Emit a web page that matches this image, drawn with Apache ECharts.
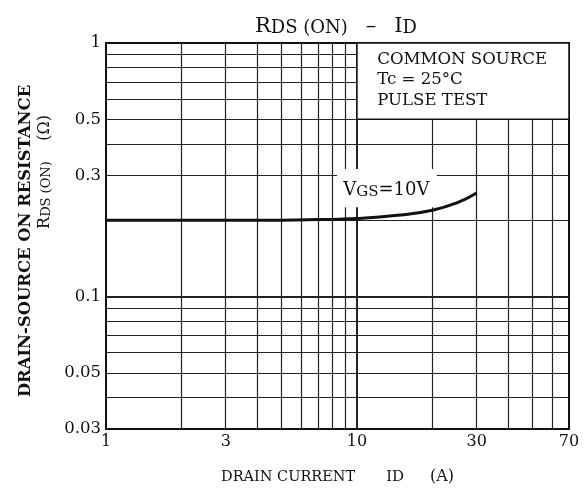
<!DOCTYPE html>
<html>
<head>
<meta charset="utf-8">
<script src="https://cdn.jsdelivr.net/npm/echarts@6/dist/echarts.min.js"></script>
<style>
  html, body { margin: 0; padding: 0; background: #fff; }
  #chart { width: 586px; height: 491px; }
</style>
</head>
<body>
<div id="chart"></div>
<script>
// drain current (A) vs on resistance (ohm)
var current = [1, 3, 5, 7, 10, 14.5, 20, 25, 30]
var resistance = [0.2, 0.2, 0.2, 0.201, 0.203, 0.209, 0.219, 0.234, 0.256]

// log grid lines
var minorX = [2, 3, 4, 5, 6, 7, 8, 9, 20, 30, 40, 50, 60]
var majorX = [10]
var minorY = [0.04, 0.05, 0.06, 0.07, 0.08, 0.09, 0.2, 0.3, 0.4, 0.5, 0.6, 0.7, 0.8, 0.9]
var majorY = [0.1]

// tick labels
var xLabels = [1, 3, 10, 30, 70]
var yLabels = [0.03, 0.05, 0.1, 0.3, 0.5, 1]

var serif = 'DejaVu Serif'

var chart = echarts.init(document.getElementById('chart'))

function gridLines(vals, key, width) {
  return vals.map(function(v) {
    var d = {}
    d[key] = v
    d.lineStyle = { width: width }
    return d
  })
}

chart.setOption({
  animation: false,
  backgroundColor: '#fff',
  title: {
    left: 331,
    textAlign: 'center',
    top: 5,
    text: '{a|R}{b|DS (ON)}{g|}{a|–}{g|}{a|I}{b|D}',
    textStyle: {
      rich: {
        a: { fontFamily: serif, fontWeight: 'normal', fontSize: 21, color: '#111', verticalAlign: 'bottom', lineHeight: 27 },
        b: { fontFamily: serif, fontWeight: 'normal', fontSize: 18, color: '#111', verticalAlign: 'bottom', lineHeight: 27, padding: [6, 0, 0, 0] },
        g: { width: 18 }
      }
    }
  },
  grid: {
    left: 106,
    right: 17,
    top: 43,
    bottom: 62,
    show: true,
    borderColor: '#111',
    borderWidth: 2
  },
  xAxis: {
    type: 'log',
    logBase: 10,
    min: 1,
    max: 70,
    name: '{a|DRAIN CURRENT}{g1|}{a|I}{b|D}{g2|}{c|(A)}',
    nameLocation: 'middle',
    nameGap: 36,
    nameTextStyle: {
      rich: {
        a: { fontFamily: serif, fontSize: 14.5, color: '#111', verticalAlign: 'bottom', lineHeight: 20 },
        b: { fontFamily: serif, fontSize: 15, color: '#111', verticalAlign: 'bottom', lineHeight: 20, padding: [5, 0, 0, 0] },
        c: { fontFamily: serif, fontSize: 16, color: '#111', verticalAlign: 'bottom', lineHeight: 20 },
        g1: { width: 31 },
        g2: { width: 26 }
      }
    },
    axisLine: { show: true, lineStyle: { color: '#111', width: 2 } },
    axisTick: { show: false },
    splitLine: { show: false },
    minorSplitLine: { show: false },
    axisLabel: {
      customValues: xLabels,
      margin: 5,
      fontFamily: serif,
      fontSize: 16,
      color: '#111'
    }
  },
  yAxis: {
    type: 'log',
    logBase: 10,
    min: 0.03,
    max: 1,
    axisLine: { show: true, lineStyle: { color: '#111', width: 2 } },
    axisTick: { show: false },
    splitLine: { show: false },
    axisLabel: {
      customValues: yLabels,
      margin: 5,
      fontFamily: serif,
      fontSize: 16.5,
      color: '#111'
    }
  },
  graphic: [
    {
      type: 'text',
      x: 26,
      y: 241,
      rotation: Math.PI / 2,
      style: {
        text: 'DRAIN-SOURCE ON RESISTANCE',
        font: 'bold 16.4px "DejaVu Serif"',
        fill: '#111',
        align: 'center',
        verticalAlign: 'middle'
      }
    },
    {
      type: 'text',
      x: 43,
      y: 172,
      rotation: Math.PI / 2,
      style: {
        text: '{a|R}{b|DS (ON)}{a|    (Ω)}',
        align: 'center',
        verticalAlign: 'middle',
        rich: {
          a: { fontFamily: serif, fontSize: 16, fill: '#111', verticalAlign: 'bottom', lineHeight: 20 },
          b: { fontFamily: serif, fontSize: 13, fill: '#111', verticalAlign: 'bottom', lineHeight: 20, padding: [5, 0, 0, 0] }
        }
      }
    }
  ],
  series: [
    {
      type: 'line',
      data: [],
      z: 1,
      silent: true,
      markLine: {
        z: 1,
        silent: true,
        symbol: 'none',
        label: { show: false },
        lineStyle: { color: '#222', type: 'solid', width: 1.2 },
        data: []
          .concat(gridLines(minorX, 'xAxis', 1.2))
          .concat(gridLines(majorX, 'xAxis', 2))
          .concat(gridLines(minorY, 'yAxis', 1.2))
          .concat(gridLines(majorY, 'yAxis', 2))
      }
    },
    {
      type: 'line',
      data: [],
      z: 3,
      silent: true,
      markArea: {
        z: 3,
        silent: true,
        data: [
          [
            {
              coord: [10, 1],
              itemStyle: { color: '#fff', borderColor: '#111', borderWidth: 1.5, opacity: 1 },
              label: {
                show: true,
                position: 'insideTopLeft',
                distance: 0,
                offset: [21, 7],
                formatter: 'COMMON SOURCE\nTc = 25°C\nPULSE TEST',
                fontFamily: serif,
                fontSize: 16.6,
                lineHeight: 20.5,
                color: '#111'
              }
            },
            { coord: [70, 0.5] }
          ],
          [
            {
              coord: [8.34, 0.318],
              itemStyle: { color: '#fff', borderWidth: 0, opacity: 1 },
              label: {
                show: true,
                position: 'insideLeft',
                distance: 0,
                offset: [6, 0],
                formatter: '{a|V}{b|GS}{a|=10V}',
                rich: {
                  a: { fontFamily: serif, fontSize: 18, color: '#111', verticalAlign: 'bottom', lineHeight: 22 },
                  b: { fontFamily: serif, fontSize: 15, color: '#111', verticalAlign: 'bottom', lineHeight: 22, padding: [5, 0, 0, 0] }
                }
              }
            },
            { coord: [20.8, 0.225] }
          ]
        ]
      }
    },
    {
      name: 'VGS=10V',
      type: 'line',
      z: 5,
      smooth: true,
      symbol: 'none',
      lineStyle: { color: '#111', width: 3 },
      data: current.map(function(c, i) { return [c, resistance[i]] })
    }
  ]
})
</script>
</body>
</html>
